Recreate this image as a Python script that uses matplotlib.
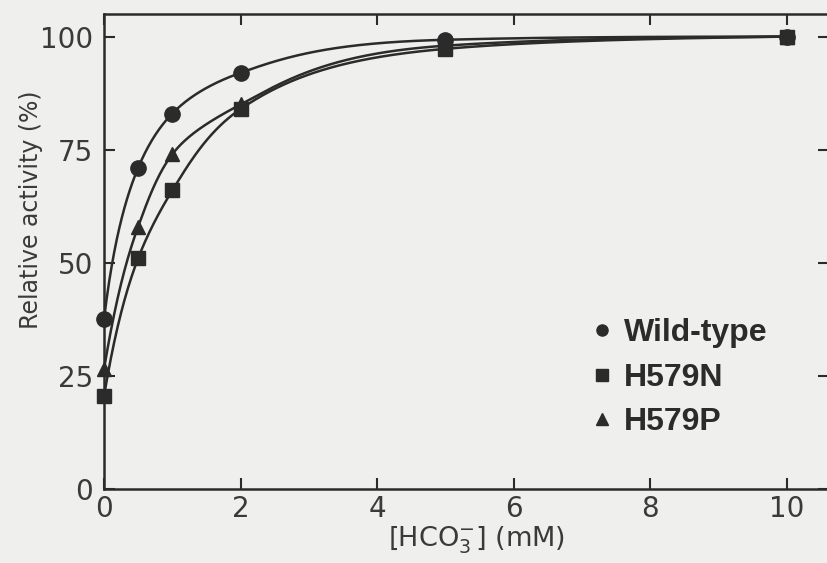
import numpy as np
import matplotlib
matplotlib.use("Agg")
import matplotlib.pyplot as plt

# Bicarbonate concentration (mM) and relative activity (%)
conc = [0, 0.5, 1, 2, 5, 10]
wild_type = [37.5, 71, 83, 92, 99.3, 100]
h579n = [20.5, 51, 66, 84, 97.3, 100]
h579p = [26.5, 58, 74, 85, 98, 100]

series_names = ["Wild-type", "H579N", "H579P"]
markers = ["o", "s", "^"]

x_ticks = [0, 2, 4, 6, 8, 10]
y_ticks = [0, 25, 50, 75, 100]

INK = "#2b2b2b"
TXT = "#3a3a3a"
BG = "#efefed"


def pchip(x, y, xs):
    """Monotone cubic (PCHIP) curve through the points."""
    x = np.asarray(x, float)
    y = np.asarray(y, float)
    h = np.diff(x)
    delta = np.diff(y) / h
    n = len(x)
    d = np.zeros(n)
    for k in range(1, n - 1):
        if delta[k - 1] * delta[k] > 0:
            w1 = 2 * h[k] + h[k - 1]
            w2 = h[k] + 2 * h[k - 1]
            d[k] = (w1 + w2) / (w1 / delta[k - 1] + w2 / delta[k])
    d[0] = ((2 * h[0] + h[1]) * delta[0] - h[0] * delta[1]) / (h[0] + h[1])
    if np.sign(d[0]) != np.sign(delta[0]):
        d[0] = 0
    d[-1] = ((2 * h[-1] + h[-2]) * delta[-1] - h[-1] * delta[-2]) / (h[-1] + h[-2])
    if np.sign(d[-1]) != np.sign(delta[-1]):
        d[-1] = 0
    idx = np.clip(np.searchsorted(x, xs) - 1, 0, n - 2)
    t = (xs - x[idx]) / h[idx]
    h00 = 2 * t**3 - 3 * t**2 + 1
    h10 = t**3 - 2 * t**2 + t
    h01 = -2 * t**3 + 3 * t**2
    h11 = t**3 - t**2
    return (h00 * y[idx] + h10 * h[idx] * d[idx]
            + h01 * y[idx + 1] + h11 * h[idx] * d[idx + 1])


def smooth_curve(x, y, xs, k=0.7):
    # interpolate on a saturating scale x/(x+k) for a smooth hyperbolic shape
    x = np.asarray(x, float)
    return pchip(x / (x + k), y, xs / (xs + k))


fig = plt.figure(figsize=(8.27, 5.63), dpi=100, facecolor=BG)
W, H = 827.0, 563.0
ax = fig.add_axes([104 / W, 74 / H, 725.3 / W, 475 / H])
ax.set_facecolor(BG)

xs = np.linspace(0, 10, 800)
for vals, m in zip([wild_type, h579n, h579p], markers):
    ax.plot(xs, smooth_curve(conc, vals, xs), color=INK, lw=1.8, zorder=2)
    ms = 11 if m == "o" else (10 if m == "s" else 10.5)
    ax.plot(conc, vals, linestyle="none", marker=m, ms=ms,
            color=INK, mec=INK, zorder=3, clip_on=False)

ax.set_xlim(0, 10.62)
ax.set_ylim(0, 105)
ax.set_xticks(x_ticks)
ax.set_yticks(y_ticks)
ax.set_xticklabels([str(v) for v in x_ticks])
ax.set_yticklabels([str(v) for v in y_ticks])

for s in ax.spines.values():
    s.set_color(INK)
    s.set_linewidth(1.8)

ax.tick_params(direction="in", length=8, width=1.5, color=INK,
               top=True, right=True, labelsize=20, labelcolor=TXT)
ax.tick_params(axis="x", pad=4)
ax.tick_params(axis="y", pad=8)

ax.set_ylabel("Relative activity (%)", fontsize=17, color=TXT)
ax.yaxis.set_label_coords(-0.084, 0.587)
ax.set_xlabel(r"[HCO$_3^{-}$] (mM)", fontsize=19.5, color=TXT)
ax.xaxis.set_label_coords(0.513, -0.075)

handles = [plt.Line2D([], [], linestyle="none", marker=m, ms=8,
                      color=INK) for m in markers]
leg = ax.legend(handles, series_names, loc="upper left",
                bbox_to_anchor=(594 / W, 1 - 318 / H),
                bbox_transform=fig.transFigure, frameon=False,
                borderpad=0, borderaxespad=0,
                handlelength=0.5, handletextpad=0.45, labelspacing=0.46,
                prop={"family": "Liberation Sans", "size": 23, "weight": "bold"})
for t in leg.get_texts():
    t.set_color(INK)

fig.savefig("out.png", dpi=100, facecolor=BG)
